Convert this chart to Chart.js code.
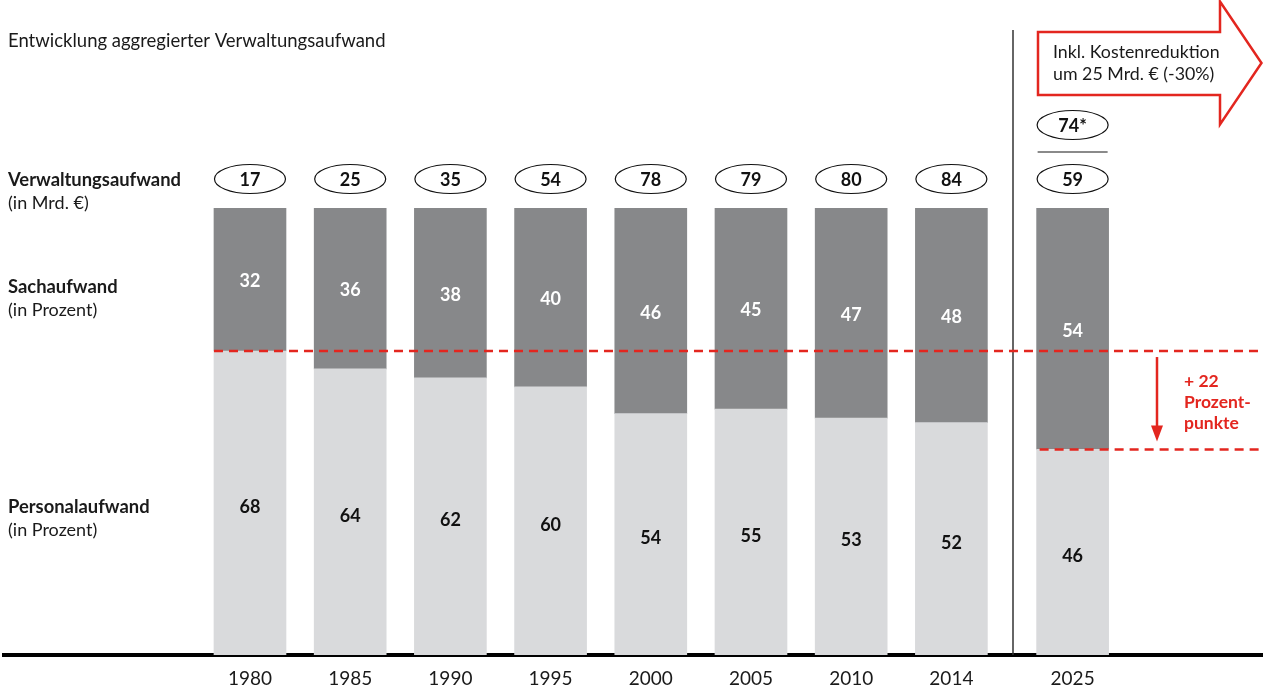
<!DOCTYPE html>
<html>
<head>
<meta charset="utf-8">
<script src="https://cdn.jsdelivr.net/npm/chart.js@4.4.1/dist/chart.umd.min.js"></script>
<style>
  html, body { margin: 0; padding: 0; background: #fff; }
  #wrap { width: 1263px; height: 689px; position: relative; }
</style>
</head>
<body>
<div id="wrap"><canvas id="verwaltungChart"></canvas></div>
<script>
// --- Daten ---
const years = ['1980', '1985', '1990', '1995', '2000', '2005', '2010', '2014', '2025'];
const xPos = [0, 1, 2, 3, 4, 5, 6, 7, 8.21];
const personal = [68, 64, 62, 60, 54, 55, 53, 52, 46];
const sach = [32, 36, 38, 40, 46, 45, 47, 48, 54];
const totals = ['17', '25', '35', '54', '78', '79', '80', '84', '59'];
const total2025Before = '74*';

const FONT = 'Lato, "Noto Sans", sans-serif';
const RED = '#e3261f';
const DARK = '#87888a';
const LIGHT = '#d9dadc';

const overlay = {
    id: 'overlay',
    afterDatasetsDraw(chart) {
        const ctx = chart.ctx;
        const area = chart.chartArea;
        const persMeta = chart.getDatasetMeta(0);
        const sachMeta = chart.getDatasetMeta(1);
        ctx.save();

        // Werte in den Balken
        ctx.textAlign = 'center';
        ctx.textBaseline = 'middle';
        ctx.font = 'bold 18px ' + FONT;
        persMeta.data.forEach((bar, i) => {
            ctx.fillStyle = '#111';
            ctx.fillText(personal[i], bar.x, (bar.y + bar.base) / 2 + 4);
        });
        sachMeta.data.forEach((bar, i) => {
            ctx.fillStyle = '#fff';
            ctx.fillText(sach[i], bar.x, (bar.y + bar.base) / 2 + 2);
        });

        // Ellipsen mit Gesamtaufwand
        const ellipse = (x, y, txt) => {
            ctx.beginPath();
            ctx.ellipse(x, y, 35.5, 14.5, 0, 0, Math.PI * 2);
            ctx.strokeStyle = '#111';
            ctx.lineWidth = 1.2;
            ctx.stroke();
            ctx.fillStyle = '#111';
            ctx.fillText(txt, x, y + 1);
        };
        persMeta.data.forEach((bar, i) => ellipse(bar.x, area.top - 29, totals[i]));
        const last = persMeta.data[persMeta.data.length - 1];
        ellipse(last.x, 125, total2025Before);
        ctx.beginPath();
        ctx.moveTo(last.x - 35, 152);
        ctx.lineTo(last.x + 35, 152);
        ctx.strokeStyle = '#8a8a8a';
        ctx.lineWidth = 2;
        ctx.stroke();

        // Titel + linke Beschriftung
        ctx.textAlign = 'left';
        ctx.textBaseline = 'middle';
        ctx.fillStyle = '#1a1a1a';
        ctx.font = '18.5px ' + FONT;
        ctx.fillText('Entwicklung aggregierter Verwaltungsaufwand', 8, 41);
        const rowLabel = (bold, sub, y) => {
            ctx.font = 'bold 18.4px ' + FONT;
            ctx.fillText(bold, 8, y);
            ctx.font = '18px ' + FONT;
            ctx.fillText(sub, 8, y + 23);
        };
        rowLabel('Verwaltungsaufwand', '(in Mrd. €)', 180);
        rowLabel('Sachaufwand', '(in Prozent)', 287);
        rowLabel('Personalaufwand', '(in Prozent)', 507);

        // Trennlinie vor 2025
        ctx.beginPath();
        ctx.moveTo(1013, 30);
        ctx.lineTo(1013, area.bottom);
        ctx.strokeStyle = '#333';
        ctx.lineWidth = 1.5;
        ctx.stroke();

        // rote gestrichelte Linien
        const y1980 = persMeta.data[0].y;
        const y2025 = last.y;
        ctx.setLineDash([9, 6]);
        ctx.strokeStyle = RED;
        ctx.lineWidth = 2.5;
        ctx.beginPath();
        ctx.moveTo(persMeta.data[0].x - 36, y1980);
        ctx.lineTo(chart.width, y1980);
        ctx.moveTo(last.x - 33, y2025);
        ctx.lineTo(chart.width, y2025);
        ctx.stroke();
        ctx.setLineDash([]);

        // roter Pfeil
        const ax = 1157;
        ctx.beginPath();
        ctx.moveTo(ax, y1980 + 6);
        ctx.lineTo(ax, y2025 - 14);
        ctx.lineWidth = 2.5;
        ctx.stroke();
        ctx.beginPath();
        ctx.moveTo(ax - 6, y2025 - 24);
        ctx.lineTo(ax, y2025 - 8);
        ctx.lineTo(ax + 6, y2025 - 24);
        ctx.closePath();
        ctx.fillStyle = RED;
        ctx.fill();
        ctx.font = 'bold 17.5px ' + FONT;
        ctx.fillText('+ 22', 1184, 381);
        ctx.fillText('Prozent-', 1184, 402);
        ctx.fillText('punkte', 1184, 423);

        // Hinweis-Pfeil oben rechts
        ctx.beginPath();
        ctx.moveTo(1038, 32);
        ctx.lineTo(1220, 32);
        ctx.lineTo(1220, 1.5);
        ctx.lineTo(1261.5, 63);
        ctx.lineTo(1220, 124.5);
        ctx.lineTo(1220, 95);
        ctx.lineTo(1038, 95);
        ctx.closePath();
        ctx.fillStyle = '#fff';
        ctx.fill();
        ctx.strokeStyle = RED;
        ctx.lineWidth = 2.5;
        ctx.stroke();
        ctx.fillStyle = '#1a1a1a';
        ctx.font = '17.8px ' + FONT;
        ctx.fillText('Inkl. Kostenreduktion', 1053, 52);
        ctx.fillText('um 25 Mrd. € (-30%)', 1053, 74);

        ctx.restore();
    }
};

new Chart(document.getElementById('verwaltungChart').getContext('2d'), {
    type: 'bar',
    data: {
        datasets: [{
            label: 'Personalaufwand',
            data: xPos.map((x, i) => ({ x: x, y: personal[i] })),
            backgroundColor: LIGHT,
            barThickness: 72
        }, {
            label: 'Sachaufwand',
            data: xPos.map((x, i) => ({ x: x, y: sach[i] })),
            backgroundColor: DARK,
            barThickness: 72
        }]
    },
    options: {
        responsive: true,
        maintainAspectRatio: false,
        animation: false,
        layout: { padding: { top: 208, left: 4, right: 0, bottom: 1 } },
        plugins: { legend: { display: false }, tooltip: { enabled: false } },
        scales: {
            x: {
                type: 'linear',
                stacked: true,
                offset: false,
                min: -2.455,
                max: 10.11,
                grid: { display: false, drawTicks: false },
                border: { display: true, color: '#000', width: 4 },
                afterBuildTicks: axis => { axis.ticks = xPos.map(v => ({ value: v })); },
                afterFit: axis => { axis.height = 33; },
                ticks: {
                    autoSkip: false,
                    maxRotation: 0,
                    padding: 12,
                    color: '#1a1a1a',
                    font: { family: FONT, size: 19 },
                    callback: (value, index) => years[index]
                }
            },
            y: {
                stacked: true,
                display: false,
                min: 0,
                max: 100
            }
        }
    },
    plugins: [overlay]
});
</script>
</body>
</html>
